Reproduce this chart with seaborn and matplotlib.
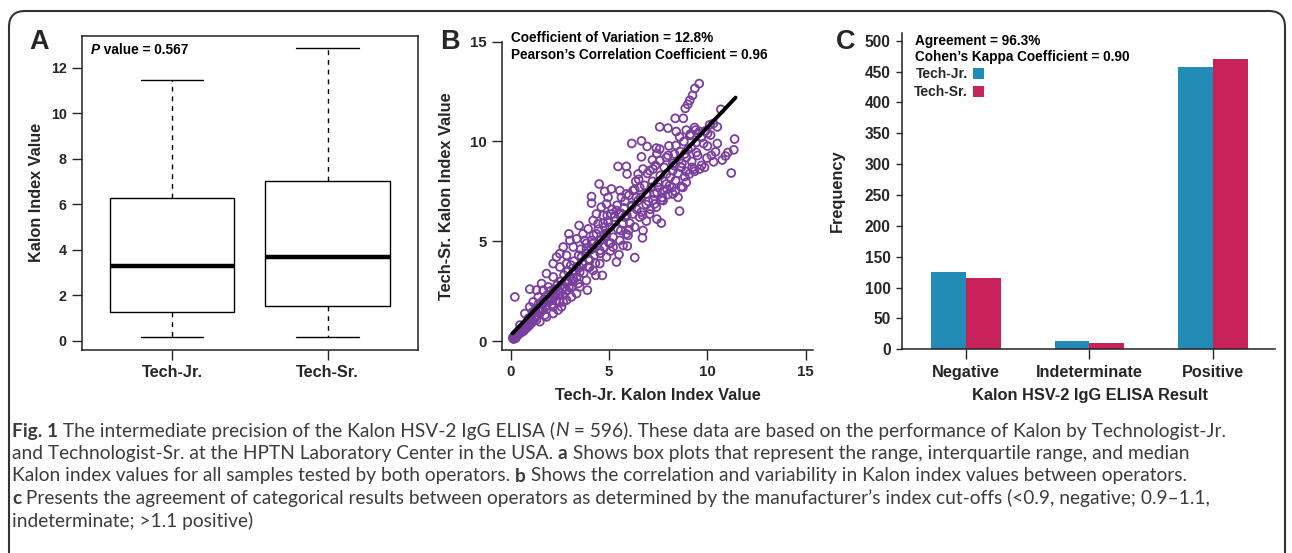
import matplotlib
matplotlib.use("Agg")
import matplotlib.pyplot as plt
import matplotlib.transforms as mtrans
from matplotlib.patches import FancyBboxPatch
from matplotlib.text import Annotation
import pandas as pd
import seaborn as sns

# ---- data ----
# A: range / IQR / median per operator (min, q1, median, q3, max)
operators = ['Tech-Jr.', 'Tech-Sr.']
jr_box = [0.15, 1.26, 3.31, 6.30, 11.49]
sr_box = [0.15, 1.54, 3.68, 7.03, 12.89]

# B: paired Kalon index values (Tech-Jr. x, Tech-Sr. y)
jr_vals = [9.58, 9.36, 9.24, 9.10, 9.00, 8.87, 8.36, 8.77, 10.68, 7.57, 7.99, 8.41, 8.92, 8.58,
           9.13, 9.40, 9.51, 10.11, 10.50, 10.16, 11.38, 10.00, 10.41, 11.34, 11.04, 10.92, 10.75,
           10.31, 9.97, 11.21, 9.85, 9.60, 9.34, 9.22, 8.58, 6.15, 6.64, 6.93, 7.40, 8.04, 7.43,
           6.64, 5.45, 5.87, 5.91, 4.49, 4.77, 4.10, 4.10, 3.47, 2.95, 0.96, 0.20, 3.89, 4.32,
           4.65, 5.37, 5.50, 5.71, 5.92, 6.30, 5.06, 5.08, 6.69, 6.72, 7.43, 7.65, 6.89, 6.89,
           6.64, 7.23, 6.01, 5.96, 5.59, 6.13, 5.76, 5.37, 8.36, 8.67, 8.38, 7.99, 7.77, 7.91,
           7.43, 7.65, 8.84, 9.08, 8.67, 8.24, 7.91, 7.57, 7.23, 7.20, 6.72, 6.47, 6.35, 6.55,
           6.21, 5.87, 5.54, 5.62, 5.11, 4.94, 4.86, 4.60, 4.69, 5.11, 4.35, 4.18, 4.43, 3.93,
           3.67, 3.34, 3.00, 3.17, 2.66, 2.49, 2.83, 2.15, 2.32, 1.81, 1.56, 1.30, 2.49, 2.66,
           2.15, 1.73, 1.30, 0.80, 0.54, 4.52, 4.18, 4.52, 3.84, 4.01, 3.67, 3.93, 3.50, 3.17,
           3.42, 3.08, 2.83, 2.49, 2.15, 1.98, 1.64, 1.39, 1.13, 0.88, 0.46, 0.29, 0.15, 0.12,
           0.20, 0.37, 0.63, 0.96, 1.22, 1.47, 1.81, 2.07, 2.40, 2.74, 2.91, 3.17, 3.34, 3.59,
           3.84, 4.10, 4.35, 4.77, 4.94, 5.28, 5.54, 5.79, 6.21, 6.47, 6.89, 7.14, 7.48, 7.91,
           8.24, 8.58, 8.84, 9.18, 9.43, 9.68, 9.90, 9.43, 8.92, 8.33, 7.57, 7.06, 6.38, 7.40,
           4.86, 3.76, 2.83, 2.49, 2.15, 1.64, 1.90, 1.39, 1.13, 0.96, 0.71, 1.47, 1.81, 2.15,
           2.40, 2.57, 2.83, 3.08, 3.34, 3.50, 3.84, 4.18, 4.52, 4.86, 5.20, 5.54, 5.87, 6.30,
           6.55, 7.06, 7.31, 7.74, 8.24, 8.50, 8.75, 8.07, 8.92,
           0.10, 0.12, 0.15, 0.18, 0.20, 0.22, 0.25, 0.28, 0.30, 0.33, 0.35, 0.40, 0.45, 0.50,
           0.55, 0.60, 0.65, 0.70, 0.75, 0.80, 0.85, 0.90, 0.95, 1.00, 1.05, 0.14, 0.16, 0.24,
           0.27, 0.38,
           1.10, 1.20, 1.25, 1.35, 1.40, 1.50, 1.55, 1.60, 1.70, 1.75, 1.85, 1.90, 2.00, 2.05,
           2.10, 2.20, 2.25, 2.30, 2.35, 2.45, 2.55, 2.60, 2.65, 2.70, 2.80, 2.90, 2.95, 3.00,
           3.05, 3.15, 3.20, 3.30, 3.35, 3.45, 3.50, 3.55, 3.65, 3.70, 3.80, 3.85, 3.95, 4.00,
           4.10, 4.20, 4.25, 4.30, 4.40, 4.45, 4.55, 4.60, 4.70, 4.75, 4.85, 4.90, 5.00, 5.05,
           5.15, 5.20, 5.30, 5.40, 5.45, 5.60, 5.70, 5.80, 5.90, 6.00, 6.05, 6.15, 6.30, 6.40,
           6.50, 6.60, 6.70, 6.80, 6.95, 7.00, 7.10, 7.20, 7.30, 7.35, 7.50, 7.60, 7.70, 7.80,
           7.95, 8.00, 8.10, 8.20, 8.30, 8.40, 8.50, 8.60, 8.70, 8.80, 8.90, 9.00, 9.10, 9.20,
           9.30, 9.35, 9.50, 9.60, 9.70, 9.80, 10.00, 10.20, 10.30, 10.50]
sr_vals = [12.90, 12.66, 12.31, 12.06, 11.86, 11.66, 11.16, 11.16, 11.61, 10.73, 10.67, 10.50,
           10.57, 10.23, 10.37, 10.57, 10.40, 10.83, 10.73, 10.32, 10.12, 9.77, 9.48, 9.58, 9.45,
           9.27, 9.07, 8.98, 9.17, 8.42, 8.70, 8.62, 8.50, 8.70, 6.51, 9.90, 10.03, 9.75, 9.67,
           9.78, 9.40, 9.23, 8.75, 8.75, 8.37, 7.87, 7.50, 7.24, 6.91, 5.79, 5.37, 2.60, 2.21,
           2.55, 3.29, 3.29, 3.96, 4.33, 4.79, 4.76, 4.18, 4.51, 4.91, 5.17, 5.54, 6.11, 5.91,
           6.01, 6.84, 6.46, 7.07, 5.57, 5.29, 5.54, 6.74, 6.67, 6.54, 7.50, 7.74, 8.04, 7.34,
           7.54, 7.87, 7.45, 7.07, 8.24, 8.37, 8.70, 8.90, 9.20, 9.04, 8.62, 9.07, 8.62, 8.37,
           8.00, 7.70, 7.54, 7.37, 7.54, 7.20, 7.62, 7.20, 6.87, 6.71, 6.29, 6.37, 6.37, 6.04,
           5.87, 5.62, 5.37, 5.12, 5.04, 4.71, 4.71, 4.38, 4.29, 3.88, 4.21, 3.38, 2.88, 2.55,
           1.96, 1.96, 1.71, 1.30, 1.05, 0.80, 0.55, 5.04, 4.88, 4.54, 4.38, 4.04, 3.88, 3.71,
           3.46, 3.13, 2.88, 2.71, 2.55, 2.38, 2.38, 2.13, 1.88, 1.63, 1.38, 1.13, 0.80, 0.38,
           0.22, 0.13, 0.30, 0.47, 0.63, 0.97, 1.21, 1.55, 1.80, 2.05, 2.30, 2.71, 2.96, 3.46,
           3.71, 4.21, 4.63, 5.04, 5.37, 5.71, 5.96, 6.21, 6.37, 6.21, 6.37, 7.04, 7.37, 7.70,
           7.95, 8.37, 8.54, 9.12, 9.37, 9.70, 9.95, 10.20, 10.53, 9.45, 9.20, 9.37, 9.62, 8.54,
           7.20, 6.71, 5.29, 5.04, 3.88, 3.71, 3.21, 2.55, 2.71, 2.21, 1.96, 1.71, 1.38, 0.97,
           1.21, 1.38, 1.55, 1.71, 2.05, 2.21, 2.38, 2.71, 3.04, 3.54, 3.88, 4.21, 4.71, 5.04,
           5.37, 5.71, 6.21, 6.37, 6.87, 7.04, 7.37, 7.20, 7.70, 7.79, 7.95,
           0.15, 0.20, 0.12, 0.25, 0.18, 0.30, 0.20, 0.35, 0.25, 0.40, 0.30, 0.45, 0.38, 0.55,
           0.45, 0.60, 0.50, 0.75, 0.62, 0.90, 0.70, 0.95, 0.80, 1.10, 0.90, 0.10, 0.16, 0.14,
           0.27, 0.33,
           1.45, 1.10, 1.60, 1.30, 1.85, 1.45, 1.95, 1.60, 2.10, 1.70, 2.30, 1.95, 2.50, 2.15,
           1.85, 2.60, 2.25, 2.00, 2.80, 2.50, 3.00, 2.60, 2.30, 3.30, 2.90, 3.50, 2.70, 3.20,
           3.80, 3.00, 4.00, 3.50, 3.20, 4.30, 3.70, 4.60, 3.90, 3.40, 4.40, 4.90, 4.10, 3.70,
           4.60, 5.30, 4.30, 3.90, 4.80, 5.60, 4.40, 5.10, 5.90, 4.70, 5.40, 6.30, 4.90, 5.70,
           6.60, 5.20, 6.00, 6.80, 5.60, 6.40, 5.90, 7.00, 6.30, 7.30, 5.90, 6.80, 7.60, 6.60,
           8.10, 7.20, 6.30, 7.80, 8.40, 7.00, 6.60, 8.00, 7.40, 8.80, 7.70, 8.30, 7.20, 8.70,
           7.60, 9.30, 8.20, 7.70, 8.80, 9.80, 8.40, 9.50, 8.90, 10.00, 8.50, 9.60, 10.30, 9.00,
           8.60, 10.70, 9.30, 10.50, 8.80, 9.90, 10.40, 9.30, 10.90, 9.90]
# fitted line end points
fit_x = [0.08, 11.43]
fit_y = [0.38, 12.20]

# C: categorical results
results = ['Negative', 'Indeterminate', 'Positive']
jr_counts = [125, 14, 457]
sr_counts = [115, 10, 471]

BLUE = '#228BB6'
RED = '#C8225A'
PURPLE = '#7A3E9E'

sns.set_style('ticks')
plt.rcParams['font.family'] = ['Liberation Sans', 'DejaVu Sans']
plt.rcParams['font.weight'] = 'bold'
plt.rcParams['axes.labelweight'] = 'bold'

W, H = 1292, 553
fig = plt.figure(figsize=(12.92, 5.53), dpi=100)


def box(l, t, r, b):
    return [l / W, 1 - b / H, (r - l) / W, (b - t) / H]


def px(x, y):
    return x / W, 1 - y / H


def runs(x, y, parts, size, color='black', family=None):
    # draw a line of mixed-style text, piece after piece
    fam = family or plt.rcParams['font.family']
    txt, wt, st = parts[0]
    prev = fig.text(*px(x, y), txt, fontsize=size, fontweight=wt, fontstyle=st,
                    color=color, va='center', ha='left', family=fam)
    for txt, wt, st in parts[1:]:
        a = Annotation(txt, xy=(1, 0), xycoords=prev, ha='left', va='bottom',
                       fontsize=size, fontweight=wt, fontstyle=st, color=color, family=fam)
        fig.add_artist(a)
        prev = a


# outer rounded frame
frame = FancyBboxPatch((9, -40), 1276, 582, boxstyle='round,pad=0,rounding_size=16',
                       transform=mtrans.IdentityTransform(), fill=False,
                       edgecolor='#333333', linewidth=1.5)
fig.add_artist(frame)

# ---- A: box plots ----
axA = fig.add_axes(box(82, 35.7, 417.7, 350))
df_a = pd.DataFrame({'operator': [operators[0]] * 5 + [operators[1]] * 5,
                     'value': jr_box + sr_box})
sns.boxplot(data=df_a, x='operator', y='value', order=operators, ax=axA, whis=(0, 100),
            width=0.8, color='white', linecolor='black', linewidth=1.0, saturation=1,
            medianprops=dict(linewidth=3.2),
            whiskerprops=dict(linestyle=(0, (3.5, 3.5))))
axA.set_xlim(-0.58, 1.58)
axA.set_ylim(-0.4, 13.42)
axA.set_yticks(range(0, 13, 2))
axA.set_xlabel('')
axA.set_ylabel('Kalon Index Value', fontsize=11.7, va='center')
axA.yaxis.set_label_coords(-0.137, 0.5)
for s in axA.spines.values():
    s.set_linewidth(1.1)
    s.set_color('#222222')
axA.tick_params(axis='y', length=7, width=1, labelsize=10.3, pad=4)
axA.tick_params(axis='x', length=7, width=1, labelsize=11.7, pad=4)
runs(91, 50, [('P', 'bold', 'italic'), (' value = 0.567', 'bold', 'normal')], 9.8)

# ---- B: scatter ----
axB = fig.add_axes(box(501.7, 41.7, 813, 350))
sns.scatterplot(x=jr_vals, y=sr_vals, ax=axB, marker='o', s=32, color=PURPLE,
                facecolor='none', edgecolor=PURPLE, linewidth=1.3, zorder=2)
sns.lineplot(x=fit_x, y=fit_y, ax=axB, color='black', linewidth=2.8, zorder=3)
axB.set_xlim(-0.47, 15.37)
axB.set_ylim(-0.45, 15)
axB.set_xticks([0, 5, 10, 15])
axB.set_yticks([0, 5, 10, 15])
sns.despine(ax=axB)
for s in axB.spines.values():
    s.set_linewidth(1.1)
    s.set_color('#222222')
axB.tick_params(length=7, width=1, labelsize=10.8, pad=4)
axB.set_xlabel('Tech-Jr. Kalon Index Value', fontsize=11.8, va='center')
axB.set_ylabel('Tech-Sr. Kalon Index Value', fontsize=11.8, va='center')
axB.xaxis.set_label_coords(0.501, -0.146)
axB.yaxis.set_label_coords(-0.177, 0.5)
runs(511, 38.5, [('Coefficient of Variation = 12.8%', 'bold', 'normal')], 9.8)
runs(511, 55, [('Pearson\u2019s Correlation Coefficient = 0.96', 'bold', 'normal')], 9.8)

# ---- C: bars ----
axC = fig.add_axes(box(901.7, 33, 1275, 349.3))
df_c = pd.DataFrame({'result': results * 2,
                     'operator': [operators[0]] * 3 + [operators[1]] * 3,
                     'count': jr_counts + sr_counts})
sns.barplot(data=df_c, x='result', y='count', hue='operator', order=results,
            hue_order=operators, palette=[BLUE, RED], width=0.562, saturation=1,
            linewidth=0, ax=axC)
axC.set_xlim(-0.518, 2.5)
axC.set_ylim(0, 512.5)
axC.set_yticks(range(0, 501, 50))
sns.despine(ax=axC)
for s in axC.spines.values():
    s.set_linewidth(1.1)
    s.set_color('#222222')
axC.tick_params(axis='y', length=4, width=1, labelsize=11.2, pad=4)
axC.tick_params(axis='x', length=7, width=1, labelsize=11.7, pad=4)
axC.set_xlabel('Kalon HSV-2 IgG ELISA Result', fontsize=11.8, va='center')
axC.set_ylabel('Frequency', fontsize=11.8, va='center')
axC.xaxis.set_label_coords(0.504, -0.1445)
axC.yaxis.set_label_coords(-0.171, 0.5)
handles, labels = axC.get_legend_handles_labels()
axC.legend(handles, labels, loc='upper left', bbox_to_anchor=px(914, 67),
           bbox_transform=fig.transFigure, frameon=False, markerfirst=False,
           handlelength=0.85, handleheight=0.85, handletextpad=0.35, labelspacing=0.3,
           borderpad=0, borderaxespad=0, prop=dict(weight='bold', size=10))
runs(915, 40.5, [('Agreement = 96.3%', 'bold', 'normal')], 9.8)
runs(915, 57, [('Cohen\u2019s Kappa Coefficient = 0.90', 'bold', 'normal')], 9.8)

# panel letters
for letter, x in [('A', 29), ('B', 440), ('C', 836)]:
    fig.text(*px(x, 42), letter, fontsize=19.5, fontweight='bold', va='center', ha='left')

# ---- caption ----
cap = ['Lato', 'DejaVu Sans']
cc = '#3c3c3c'
cs = 13.8
runs(12, 431, [('Fig. 1', 'bold', 'normal'),
               (' The intermediate precision of the Kalon HSV-2 IgG ELISA (', 'normal', 'normal'),
               ('N', 'normal', 'italic'),
               (' = 596). These data are based on the performance of Kalon by Technologist-Jr.',
                'normal', 'normal')], cs, cc, cap)
runs(12, 453.5, [('and Technologist-Sr. at the HPTN Laboratory Center in the USA. ', 'normal', 'normal'),
                 ('a', 'bold', 'normal'),
                 (' Shows box plots that represent the range, interquartile range, and median',
                  'normal', 'normal')], cs, cc, cap)
runs(12, 476, [('Kalon index values for all samples tested by both operators. ', 'normal', 'normal'),
               ('b', 'bold', 'normal'),
               (' Shows the correlation and variability in Kalon index values between operators.',
                'normal', 'normal')], cs, cc, cap)
runs(12, 498.5, [('c', 'bold', 'normal'),
                 (' Presents the agreement of categorical results between operators as determined '
                  'by the manufacturer\u2019s index cut-offs (<0.9, negative; 0.9\u20131.1,',
                  'normal', 'normal')], cs, cc, cap)
runs(12, 521, [('indeterminate; >1.1 positive)', 'normal', 'normal')], cs, cc, cap)

fig.savefig('out.png', dpi=100)
